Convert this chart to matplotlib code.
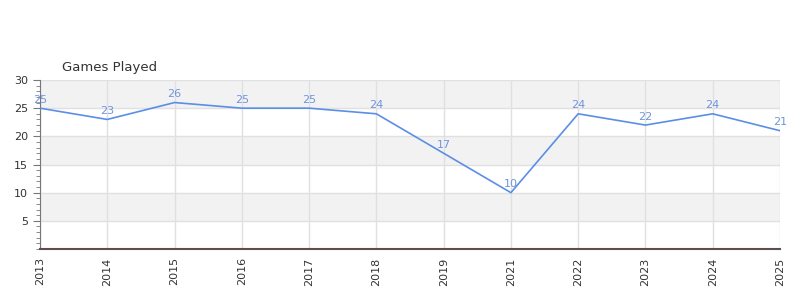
import matplotlib
matplotlib.use("Agg")
import matplotlib.pyplot as plt
from matplotlib.ticker import MultipleLocator

years = ["2013", "2014", "2015", "2016", "2017", "2018", "2019",
         "2021", "2022", "2023", "2024", "2025"]
games = [25, 23, 26, 25, 25, 24, 17, 10, 24, 22, 24, 21]

fig = plt.figure(figsize=(8, 3), dpi=100)
ax = fig.add_axes([0.05, 0.17, 0.925, 0.5633])

x = list(range(len(years)))

# alternating bands
for lo in (5, 15, 25):
    ax.axhspan(lo, lo + 5, color="#f2f2f2", zorder=0, lw=0)

ax.set_xlim(0, len(years) - 1)
ax.set_ylim(0, 30)
ax.grid(True, color="#e0e0e0", lw=1, zorder=1)
ax.set_axisbelow(True)

ax.plot(x, games, color="#5b8ee6", lw=1.2, zorder=3)
for xi, v in zip(x, games):
    ax.text(xi, v + 0.6, str(v), ha="center", va="bottom",
            fontsize=8, color="#6f94e0", zorder=4)

ax.axhline(0, color="#cc0000", lw=1, zorder=5)

ax.set_xticks(x)
ax.set_xticklabels(years, rotation=90, fontsize=8, color="#333333")
ax.set_yticks([5, 10, 15, 20, 25, 30])
ax.yaxis.set_minor_locator(MultipleLocator(1))
ax.tick_params(axis="y", labelsize=8, colors="#333333", length=5, color="#777777")
ax.tick_params(axis="y", which="minor", length=3, color="#777777")
ax.tick_params(axis="x", length=0, pad=6)

for s in ("top", "right"):
    ax.spines[s].set_visible(False)
ax.spines["left"].set_color("#777777")
ax.spines["bottom"].set_color("#555555")
ax.spines["bottom"].set_linewidth(1.5)

fig.text(62 / 800, 1 - 67 / 300, "Games Played", fontsize=9.5,
         color="#333333", ha="left", va="center")

fig.savefig("out.png", dpi=100)
